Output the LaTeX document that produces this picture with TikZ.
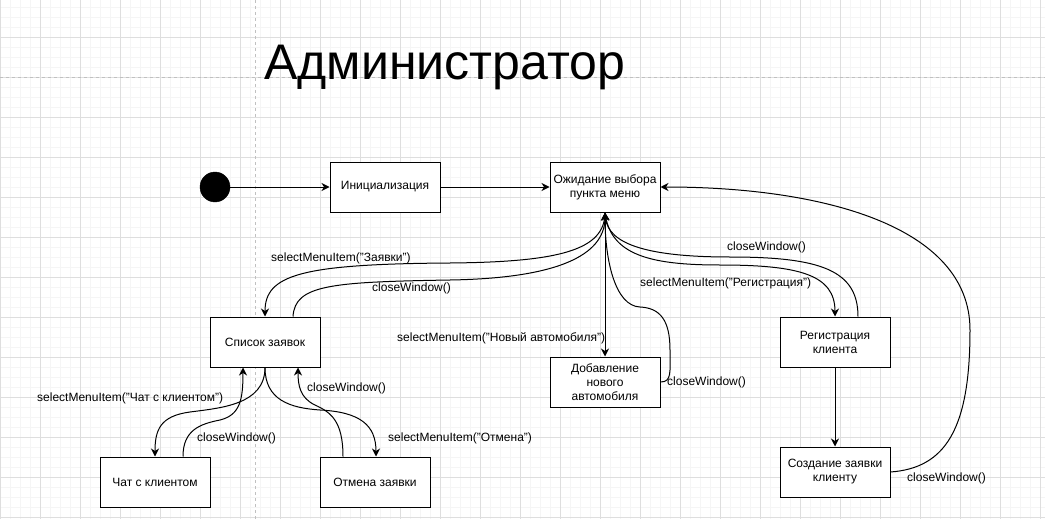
\documentclass[tikz,border=0pt]{standalone}
\usepackage{fontspec}
\setmainfont{Liberation Sans}
\usetikzlibrary{arrows.meta,calc}
\definecolor{gridminor}{HTML}{F5F5F5}
\definecolor{gridmajor}{HTML}{DEDEDE}
\definecolor{pagebreak}{HTML}{C0C0C0}
\tikzset{
  state/.style={draw=black,line width=1pt,fill=white,minimum width=110pt,minimum height=50pt,
    inner sep=2pt,align=center,font=\fontsize{12}{14}\selectfont},
  lbl/.style={inner sep=0pt,anchor=west,font=\fontsize{12}{14}\selectfont},
  conn/.style={draw=black,line width=1pt,-{Stealth[length=8pt,width=8pt,inset=2.5pt]}},
  plain/.style={draw=black,line width=1pt}
}
\begin{document}
\begin{tikzpicture}[x=1pt,y=-1pt]
\useasboundingbox (0,0) rectangle (1045,519);
% grid
\foreach \gx in {0,10,...,1040} {\draw[gridminor,line width=0.8pt] (\gx,0) -- (\gx,519);}
\foreach \gy in {7,17,...,517} {\draw[gridminor,line width=0.8pt] (0,\gy) -- (1045,\gy);}
\foreach \gx in {0,40,...,1040} {\draw[gridmajor,line width=0.8pt] (\gx,0) -- (\gx,519);}
\foreach \gy in {37,77,...,517} {\draw[gridmajor,line width=0.8pt] (0,\gy) -- (1045,\gy);}
\draw[pagebreak,line width=0.8pt,dash pattern=on 3pt off 3pt] (255,0) -- (255,519);
\draw[pagebreak,line width=0.8pt,dash pattern=on 3pt off 3pt] (0,77) -- (1045,77);

% title
\node[anchor=base west,inner sep=0pt,font=\fontsize{50}{56}\selectfont] (title) at (264,80) {Администратор};

% nodes
\node[circle,fill=black,draw=black,minimum size=30pt,inner sep=0pt] (start) at (215,187) {};
\node[state] (initn) at (385,187) {Инициализация};
\node[state] (wait) at (605,187) {Ожидание выбора\\пункта меню};
\node[state] (list) at (265,342) {Список заявок};
\node[state] (add) at (605,382) {Добавление\\нового\\автомобиля};
\node[state] (reg) at (835,342) {Регистрация\\клиента};
\node[state] (create) at (835,472) {Создание заявки\\клиенту};
\node[state] (chat) at (155,482) {Чат с клиентом};
\node[state] (cancel) at (375,482) {Отмена заявки};

% straight connectors
\draw[conn] (start) -- (initn);
\draw[conn] (initn) -- (wait);
\draw[conn] (wait.south) -- (add.north);
\draw[conn] (reg.south) -- (create.north);

% wait <-> list
\draw[conn] (wait.south) .. controls (605,250) and (560,262) .. (450,263)
  .. controls (300,264) and (265,275) .. (list.north);
\draw[conn] ($(list.north)+(28,0)$) .. controls (295,285) and (330,282) .. (450,280)
  .. controls (570,278) and (605,250) .. (wait.south);

% add -> wait
\draw[conn] (add.east) .. controls (672,382) and (670,372) .. (670,350)
  .. controls (670,320) and (660,308) .. (640,307)
  .. controls (615,306) and (605,260) .. (wait.south);

% wait <-> reg
\draw[conn] (wait.south) .. controls (610,255) and (650,265) .. (720,265)
  .. controls (800,265) and (835,275) .. (reg.north);
\draw[conn] ($(reg.north)+(23,0)$) .. controls (858,270) and (820,257) .. (730,257)
  .. controls (650,257) and (608,245) .. (wait.south);

% create -> wait
\draw[conn] (create.east) .. controls (945,468) and (970,430) .. (970,330)
  .. controls (970,225) and (820,187) .. (wait.east);

% list <-> chat
\draw[conn] (list.south) .. controls (265,405) and (220,408) .. (190,412)
  .. controls (160,416) and (155,430) .. (chat.north);
\draw[conn] ($(chat.north)+(28,0)$) .. controls (183,430) and (200,424) .. (220,420)
  .. controls (240,415) and (243,400) .. ($(list.south)+(-22,0)$);

% list <-> cancel
\draw[conn] (list.south) .. controls (265,400) and (290,408) .. (320,410)
  .. controls (360,412) and (376,425) .. ($(cancel.north)+(1,0)$);
\draw[conn] ($(cancel.north)+(-32,0)$) .. controls (343,420) and (330,412) .. (315,405)
  .. controls (300,398) and (298,385) .. ($(list.south)+(33,0)$);

% labels
\node[lbl] (l1) at (271,258) {selectMenuItem("Заявки")};
\node[lbl] (l2) at (372,288) {closeWindow()};
\node[lbl] (l3) at (397,338) {selectMenuItem("Новый автомобиля")};
\node[lbl] (l4) at (667,382) {closeWindow()};
\node[lbl] (l5) at (727,247) {closeWindow()};
\node[lbl] (l6) at (640,283) {selectMenuItem("Регистрация")};
\node[lbl] (l7) at (907,478) {closeWindow()};
\node[lbl] (l8) at (37,398) {selectMenuItem("Чат с клиентом")};
\node[lbl] (l9) at (197,438) {closeWindow()};
\node[lbl] (l10) at (307,388) {closeWindow()};
\node[lbl] (l11) at (388,438) {selectMenuItem("Отмена")};
\end{tikzpicture}
\end{document}
